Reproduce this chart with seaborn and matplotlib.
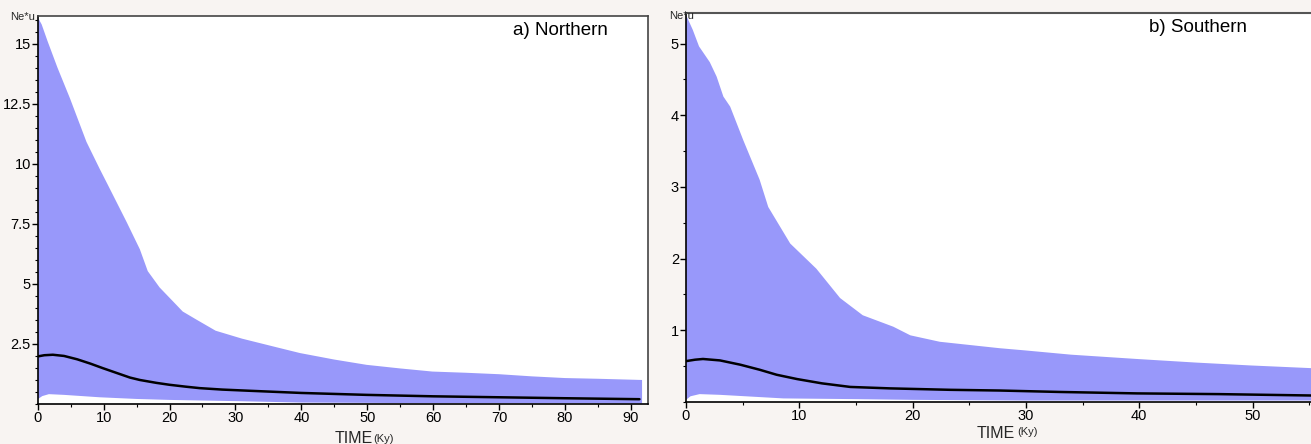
import matplotlib
matplotlib.use("Agg")
import matplotlib.pyplot as plt
import seaborn as sns
from matplotlib.ticker import MultipleLocator

# ---- a) Northern : Ne*u through time (Ky) ----
north_up_x = [0, 0.6, 1.5, 3, 4.9, 7.4, 9.4, 10.7, 13.5, 15.5, 16.7, 18.5, 20.5, 22, 24.1,
              27, 31, 36.7, 39.8, 45, 49.9, 55, 59.9, 65, 70, 75, 80, 85, 91.7]
north_up_y = [16.1, 15.8, 15.1, 14.0, 12.72, 10.91, 9.79, 9.09, 7.57, 6.44, 5.53, 4.85, 4.28,
              3.85, 3.51, 3.05, 2.72, 2.33, 2.12, 1.85, 1.63, 1.48, 1.35, 1.3, 1.24, 1.15,
              1.08, 1.05, 1.0]
north_lo_x = [0, 0.7, 1.7, 4, 9.4, 15, 20, 30, 40, 55, 75, 91.7]
north_lo_y = [0.2, 0.33, 0.41, 0.38, 0.28, 0.21, 0.17, 0.12, 0.06, 0.04, 0.03, 0.02]
north_mean_x = [0, 1, 2.3, 4, 6, 8, 9.9, 12, 14, 15.5, 18, 20, 22.5, 24.6, 28, 32.2, 40,
                49.9, 60, 70, 80, 91.3]
north_mean_y = [1.98, 2.03, 2.05, 2.0, 1.86, 1.68, 1.49, 1.29, 1.1, 1.0, 0.88, 0.8, 0.72,
                0.66, 0.6, 0.55, 0.46, 0.38, 0.32, 0.28, 0.24, 0.2]

# ---- b) Southern ----
south_up_x = [0, 0.6, 1.15, 2.1, 2.7, 3.3, 3.9, 5.06, 6.5, 7.26, 9.2, 11.5, 13.6, 15.6, 18.3,
              19.8, 22.4, 27.7, 29.9, 34, 39.8, 45, 49.8, 55.5, 60]
south_up_y = [5.4, 5.19, 4.96, 4.74, 4.54, 4.26, 4.12, 3.65, 3.1, 2.72, 2.21, 1.86, 1.45,
              1.21, 1.05, 0.93, 0.84, 0.75, 0.72, 0.66, 0.6, 0.55, 0.51, 0.47, 0.45]
south_lo_x = [0, 0.4, 1.2, 3, 8.6, 15, 20, 30, 60]
south_lo_y = [0.03, 0.08, 0.11, 0.1, 0.05, 0.04, 0.03, 0.02, 0.02]
south_mean_x = [0, 0.8, 1.5, 3, 4.8, 6.5, 8, 9.8, 12, 14.5, 18, 23.3, 27.7, 33, 39.8, 47,
                55.5, 60]
south_mean_y = [0.57, 0.59, 0.6, 0.58, 0.52, 0.45, 0.38, 0.32, 0.26, 0.21, 0.19, 0.17, 0.16,
                0.14, 0.12, 0.11, 0.09, 0.09]

north_yticks = [2.5, 5, 7.5, 10, 12.5, 15]
north_ylabels = ["2.5", "5", "7.5", "10", "12.5", "15"]
south_yticks = [1, 2, 3, 4, 5]
south_xticks = [0, 10, 20, 30, 40, 50]

BAND = '#9898fa'
BG = '#f8f4f2'
W, H = 1311, 444

sns.set_theme(style="ticks")
plt.rcParams['font.family'] = ['Liberation Sans', 'DejaVu Sans']

fig = plt.figure(figsize=(W / 100, H / 100), dpi=100, facecolor=BG)


def px_axes(left, top, right, bottom):
    return fig.add_axes([left / W, 1 - bottom / H, (right - left) / W, (bottom - top) / H])


def draw_panel(ax, up_x, up_y, lo_x, lo_y, mean_x, mean_y):
    ax.set_facecolor('white')
    band_x = list(up_x) + list(lo_x)[::-1]
    band_y = list(up_y) + list(lo_y)[::-1]
    ax.fill(band_x, band_y, color=BAND, lw=0, zorder=1)
    sns.lineplot(x=mean_x, y=mean_y, ax=ax, color='black', lw=1.8, zorder=3)
    ax.xaxis.set_major_locator(MultipleLocator(10))
    ax.xaxis.set_minor_locator(MultipleLocator(5))
    ax.yaxis.set_minor_locator(MultipleLocator(0.5))
    ax.tick_params(which='major', direction='out', length=4, width=1, pad=1,
                   labelsize=10.5, colors='black')
    ax.tick_params(which='minor', direction='out', length=2.5, width=0.8, colors='black')
    ax.set_xlabel('')
    ax.set_ylabel('')
    for s in ['left', 'bottom']:
        ax.spines[s].set_color('black')
        ax.spines[s].set_linewidth(1.2)


ax_a = px_axes(37.7, 16, 648, 404)
draw_panel(ax_a, north_up_x, north_up_y, north_lo_x, north_lo_y, north_mean_x, north_mean_y)
ax_a.set_xlim(0, 92.6)
ax_a.set_ylim(0, 16.15)
ax_a.set_yticks(north_yticks, north_ylabels)
for s in ['top', 'right']:
    ax_a.spines[s].set_color('#444444')
    ax_a.spines[s].set_linewidth(1.2)
ax_a.text(0.856, 0.963, 'a) Northern', transform=ax_a.transAxes, ha='center', va='center',
          fontsize=13.5, color='black')

# panel b runs off the right edge of the figure, as in the original
b_right = 1313
b_xmax = (b_right - 686) / 11.33
ax_b = px_axes(686, 12.7, b_right, 402)
draw_panel(ax_b, south_up_x, south_up_y, south_lo_x, south_lo_y, south_mean_x, south_mean_y)
ax_b.set_xlim(0, b_xmax)
ax_b.set_ylim(0, 5.43)
ax_b.set_xticks(south_xticks, [str(v) for v in south_xticks])
ax_b.set_yticks(south_yticks, [str(v) for v in south_yticks])
ax_b.spines['top'].set_color('#555555')
ax_b.spines['top'].set_linewidth(1.5)
ax_b.spines['right'].set_visible(False)
ax_b.text((1198 - 686) / (b_right - 686), (402 - 27) / 389.3, 'b) Southern',
          transform=ax_b.transAxes, ha='center', va='center', fontsize=13.5, color='black')

# axis labels placed in pixel positions
fig.text(335 / W, 1 - 442.5 / H, 'TIME', fontsize=11.5, ha='left', va='baseline')
fig.text(373 / W, 1 - 442 / H, '(Ky)', fontsize=8, ha='left', va='baseline')
fig.text(1015 / W, 1 - 438 / H, 'TIME', fontsize=11.5, ha='right', va='baseline')
fig.text(1017 / W, 1 - 434.5 / H, '(Ky)', fontsize=8, ha='left', va='baseline')

fig.text(35 / W, 1 - 17 / H, 'Ne*u', fontsize=8, ha='right', va='center')
fig.text(669 / W, 1 - 16 / H, 'Ne*u', fontsize=8, ha='left', va='center')

fig.savefig('out.png', dpi=100, facecolor=BG)
